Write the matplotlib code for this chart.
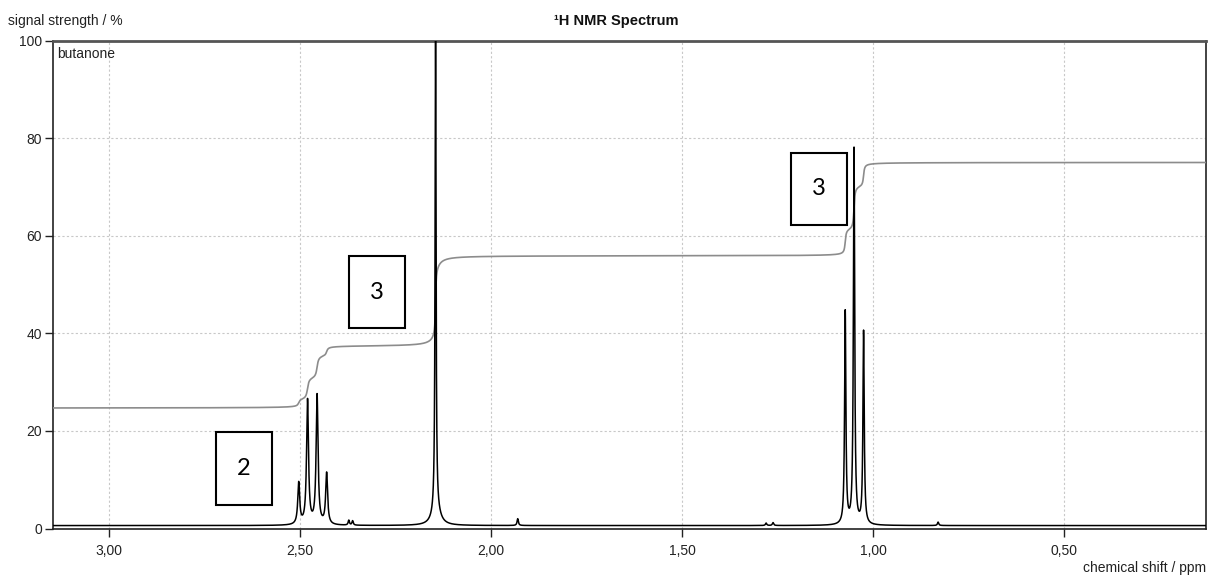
import numpy as np
import matplotlib
matplotlib.use("Agg")
import matplotlib.pyplot as plt
from matplotlib.patches import Rectangle
from matplotlib.ticker import FuncFormatter, FixedLocator

# ---------------- data ----------------
ppm_range = (3.146, 0.129)
baseline = 0.6

# CH2 quartet
ch2_pos = [2.503, 2.480, 2.455, 2.430]
ch2_height = [8.5, 25.5, 26.5, 10.5]
ch2_width = [0.003, 0.003, 0.003, 0.003]

# CH3 (C=O) singlet: sharp line + broad foot
s_pos = [2.145, 2.143]
s_height = [100.0, 3.0]
s_width = [0.0015, 0.012]

# CH3 triplet
ch3_pos = [1.073, 1.050, 1.025]
ch3_height = [43.6, 77.0, 39.5]
ch3_width = [0.002, 0.002, 0.002]

# small impurity lines
imp_pos = [2.372, 2.362, 1.930, 1.280, 1.262, 0.830]
imp_height = [1.0, 0.9, 1.4, 0.5, 0.6, 0.7]
imp_width = [0.002, 0.002, 0.002, 0.002, 0.002, 0.002]

# integral curve levels (%)
integral_start = 24.7
integral_levels = [37.4, 55.9, 75.0]

# annotations: label, centre (ppm, %)
box_labels = ["2", "3", "3"]
box_x = [2.6465, 2.2975, 1.141]
box_y = [12.3, 48.4, 69.6]
box_w = 0.147
box_h = 14.8

x_ticks = [3.0, 2.5, 2.0, 1.5, 1.0, 0.5]
y_ticks = [0, 20, 40, 60, 80, 100]

# ---------------- computation ----------------
ppm = np.linspace(ppm_range[0], ppm_range[1], 40000)


def lines(pos, hts, wds):
    out = np.zeros_like(ppm)
    for p, h, w in zip(pos, hts, wds):
        out += h * w ** 2 / ((ppm - p) ** 2 + w ** 2)
    return out


g_ch2 = lines(ch2_pos, ch2_height, ch2_width)
g_s = lines(s_pos, s_height, s_width)
g_ch3 = lines(ch3_pos, ch3_height, ch3_width)
g_imp = lines(imp_pos, imp_height, imp_width)
spectrum = baseline + g_ch2 + g_s + g_ch3 + g_imp

integral = np.full_like(ppm, integral_start)
prev = integral_start
for g, lvl in zip([g_ch2, g_s, g_ch3], integral_levels):
    c = np.cumsum(g)
    integral += (lvl - prev) * c / c[-1]
    prev = lvl

# ---------------- drawing ----------------
W, H = 1209, 577
FONT = "Liberation Sans"
fig = plt.figure(figsize=(W / 100, H / 100), dpi=100)
ax = fig.add_axes([53 / W, 48.5 / H, (1206 - 53) / W, 488 / H])

ax.plot(ppm, integral, color="#8c8c8c", lw=1.2, zorder=3)
ax.plot(ppm, spectrum, color="black", lw=1.1, zorder=4)

ax.set_xlim(*ppm_range)
ax.set_ylim(0, 100)

ax.xaxis.set_major_locator(FixedLocator(x_ticks))
ax.yaxis.set_major_locator(FixedLocator(y_ticks))
ax.xaxis.set_major_formatter(FuncFormatter(lambda v, p: f"{v:.2f}".replace(".", ",")))
ax.yaxis.set_major_formatter(FuncFormatter(lambda v, p: f"{v:.0f}"))

ax.grid(True, color="#c8c8c8", linestyle=(0, (2, 2)), lw=0.8, zorder=0)
ax.set_axisbelow(True)

ax.tick_params(axis="both", direction="out", length=6, width=1, color="#222222",
               labelsize=10, labelcolor="#222222", pad=2)
ax.tick_params(axis="x", pad=5)
for lab in ax.get_xticklabels() + ax.get_yticklabels():
    lab.set_fontfamily(FONT)

for side in ["left", "bottom", "right"]:
    ax.spines[side].set_color("#222222")
    ax.spines[side].set_linewidth(1.2)
ax.spines["top"].set_color("#555555")
ax.spines["top"].set_linewidth(2)

for lab, cx, cy in zip(box_labels, box_x, box_y):
    ax.add_patch(Rectangle((cx + box_w / 2, cy - box_h / 2), -box_w, box_h,
                           fill=True, facecolor="white", edgecolor="black",
                           lw=1.5, zorder=5))
    ax.text(cx, cy, lab, ha="center", va="center", fontsize=17,
            family="Lato", color="black", zorder=6)

ax.text(0.004, 0.987, "butanone", transform=ax.transAxes, ha="left", va="top",
        fontsize=10, family=FONT, color="#222222")

fig.text(8 / W, 1 - 21 / H, "signal strength / %", ha="left", va="center",
         fontsize=10, family=FONT, color="#222222")
fig.text(616 / W, 1 - 21 / H, "\u00b9H NMR Spectrum", ha="center", va="center",
         fontsize=10.5, fontweight="bold", family=FONT, color="#111111")
fig.text(1206 / W, 1 - 568 / H, "chemical shift / ppm", ha="right", va="center",
         fontsize=10, family=FONT, color="#222222")

fig.savefig("out.png", dpi=100, facecolor="white")
